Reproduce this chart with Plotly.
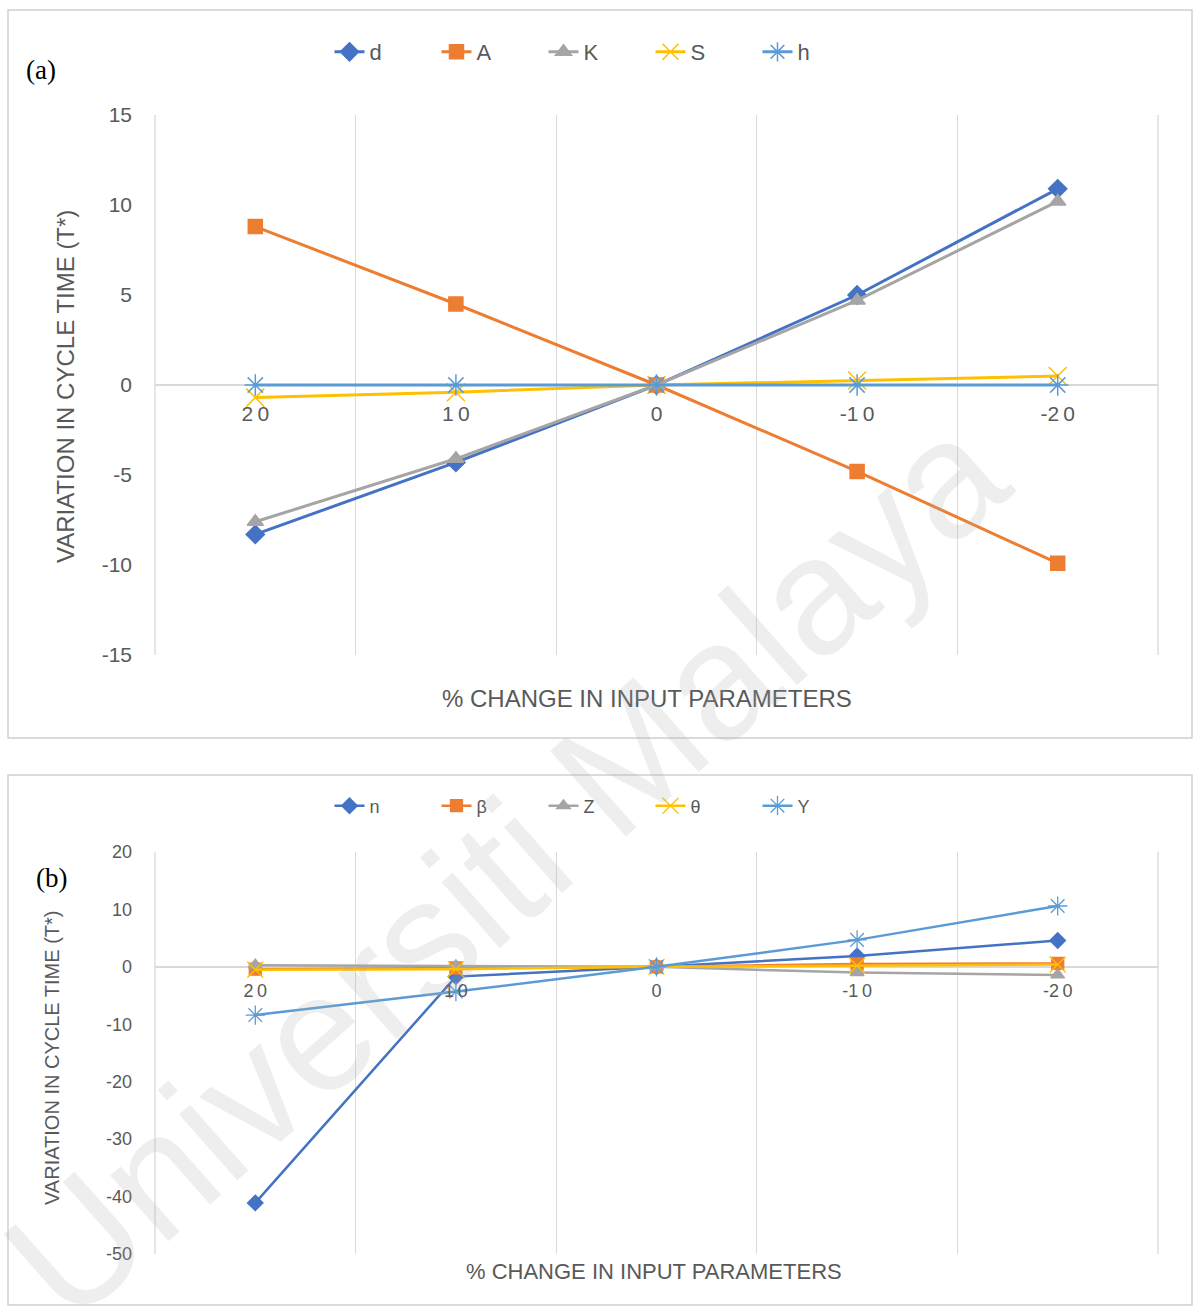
import plotly.graph_objects as go

# Category axis: percentage change applied to each input parameter
categories = ["20", "10", "0", "-10", "-20"]
category_labels = ["2\u20090", "1\u20090", "0", "-1\u20090", "-2\u20090"]

# Value-axis tick labels (plain hyphen minus)
ticks_a = [15, 10, 5, 0, -5, -10, -15]
ticks_b = [20, 10, 0, -10, -20, -30, -40, -50]

# (a) variation in cycle time T* for d, A, K, S, h
d_vals = [-8.3, -4.3, 0.0, 5.0, 10.9]
A_vals = [8.8, 4.5, 0.0, -4.8, -9.9]
K_vals = [-7.6, -4.1, 0.0, 4.7, 10.2]
S_vals = [-0.7, -0.4, 0.0, 0.25, 0.5]
h_vals = [0.0, 0.0, 0.0, 0.0, 0.0]

# (b) variation in cycle time T* for n, beta, Z, theta, gamma
n_vals = [-41.1, -1.7, 0.0, 1.9, 4.6]
beta_vals = [-0.4, -0.2, 0.0, 0.5, 0.6]
Z_vals = [0.3, 0.2, 0.0, -1.0, -1.4]
theta_vals = [-0.5, -0.4, 0.0, 0.2, 0.4]
Y_vals = [-8.4, -4.3, 0.0, 4.7, 10.6]

names_a = ["d", "A", "K", "S", "h"]
names_b = ["n", "β", "Z", "θ", "Y"]
series_a = [d_vals, A_vals, K_vals, S_vals, h_vals]
series_b = [n_vals, beta_vals, Z_vals, theta_vals, Y_vals]

colors = ["#4472C4", "#ED7D31", "#A5A5A5", "#FFC000", "#5B9BD5"]
symbols = ["diamond", "square", "triangle-up", "x-thin-open", "asterisk-open"]

W, H = 1194, 1309
def px_x(p):
    return p / W
def px_y(p):
    return 1 - p / H

fig = go.Figure()

for name, vals, c, s in zip(names_a, series_a, colors, symbols):
    open_sym = s.endswith("open")
    fig.add_trace(go.Scatter(
        x=categories, y=vals, name=name, mode="lines+markers",
        xaxis="x", yaxis="y", legend="legend",
        line=dict(color=c, width=3),
        marker=dict(symbol=s, size=14 if not open_sym else 18, color=c,
                    line=dict(color=c, width=1.5)),
    ))

for name, vals, c, s in zip(names_b, series_b, colors, symbols):
    open_sym = s.endswith("open")
    fig.add_trace(go.Scatter(
        x=categories, y=vals, name=name, mode="lines+markers",
        xaxis="x2", yaxis="y2", legend="legend2",
        line=dict(color=c, width=2.5),
        marker=dict(symbol=s, size=12 if not open_sym else 16, color=c,
                    line=dict(color=c, width=1.3)),
    ))

grid = "#d9d9d9"
tick_col = "#595959"
dom_x = [px_x(155), px_x(1158)]
dom_ya = [px_y(655), px_y(115)]
dom_yb = [px_y(1254), px_y(852)]

def xaxis_cfg(zero_px, size, standoff):
    return dict(
        type="category", categoryorder="array", categoryarray=categories,
        tickvals=categories, ticktext=category_labels,
        range=[-0.5, 4.5], autorange=False,
        domain=dom_x, anchor="free", position=px_y(zero_px),
        tickson="boundaries", showgrid=True, gridcolor=grid, gridwidth=1.3,
        ticks="", showline=False, zeroline=False,
        tickfont=dict(family="Liberation Sans, Arial", size=size, color=tick_col),
        ticklabelstandoff=standoff, fixedrange=True,
    )

def yaxis_cfg(dom, anchor, rng, tv, size):
    return dict(domain=dom, anchor=anchor, range=rng,
                tickvals=tv, ticktext=[str(v) for v in tv],
                showgrid=False, zeroline=True, zerolinecolor=grid, zerolinewidth=1.5,
                showline=False, ticks="",
                tickfont=dict(family="Liberation Sans, Arial", size=size, color=tick_col),
                ticklabelstandoff=22)

fig.update_layout(
    width=W, height=H,
    margin=dict(l=0, r=0, t=0, b=0, autoexpand=False),
    paper_bgcolor="white", plot_bgcolor="rgba(0,0,0,0)",
    showlegend=True,
    xaxis=xaxis_cfg(386, 21, 13),
    yaxis=yaxis_cfg(dom_ya, "x", [-15, 15], ticks_a, 21),
    xaxis2=xaxis_cfg(967, 18, 11),
    yaxis2=yaxis_cfg(dom_yb, "x2", [-50, 20], ticks_b, 18),
    legend=dict(orientation="h", x=0.5, xanchor="center", y=px_y(52), yanchor="middle",
                font=dict(family="Liberation Sans, Arial", size=22, color=tick_col),
                bgcolor="rgba(0,0,0,0)", entrywidth=62, entrywidthmode="pixels"),
    legend2=dict(orientation="h", x=0.5, xanchor="center", y=px_y(806), yanchor="middle",
                 font=dict(family="Liberation Sans, Arial", size=18, color=tick_col),
                 bgcolor="rgba(0,0,0,0)", entrywidth=62, entrywidthmode="pixels"),
)

# Panel frames
fig.add_shape(type="rect", xref="paper", yref="paper",
              x0=px_x(8), x1=px_x(1192), y0=px_y(738), y1=px_y(10),
              line=dict(color="#d0d0d0", width=1.5), layer="below")
fig.add_shape(type="rect", xref="paper", yref="paper",
              x0=px_x(8), x1=px_x(1192), y0=px_y(1305), y1=px_y(775),
              line=dict(color="#d0d0d0", width=1.5), layer="below")

# Outer category boundaries (left and right edges of each plot area)
for ya in (dom_ya, dom_yb):
    for xe in dom_x:
        fig.add_shape(type="line", xref="paper", yref="paper",
                      x0=xe, x1=xe, y0=ya[0], y1=ya[1],
                      line=dict(color=grid, width=1.3), layer="below")

ann = [
    dict(text="(a)", x=px_x(24), y=px_y(70), xanchor="left", yanchor="middle",
         font=dict(family="Liberation Serif, Times New Roman", size=27, color="black")),
    dict(text="(b)", x=px_x(34), y=px_y(878), xanchor="left", yanchor="middle",
         font=dict(family="Liberation Serif, Times New Roman", size=27, color="black")),
    dict(text="VARIATION IN CYCLE TIME (T*)", x=px_x(65), y=px_y(387),
         xanchor="center", yanchor="middle", textangle=-90,
         font=dict(family="Liberation Sans, Arial", size=24, color=tick_col)),
    dict(text="VARIATION IN CYCLE TIME (T*)", x=px_x(52), y=px_y(1058),
         xanchor="center", yanchor="middle", textangle=-90,
         font=dict(family="Liberation Sans, Arial", size=20, color=tick_col)),
    dict(text="% CHANGE IN INPUT PARAMETERS", x=px_x(647), y=px_y(698),
         xanchor="center", yanchor="middle",
         font=dict(family="Liberation Sans, Arial", size=24, color=tick_col)),
    dict(text="% CHANGE IN INPUT PARAMETERS", x=px_x(654), y=px_y(1271),
         xanchor="center", yanchor="middle",
         font=dict(family="Liberation Sans, Arial", size=22, color=tick_col)),
    dict(text="Universiti Malaya", x=px_x(505), y=px_y(866),
         xanchor="center", yanchor="middle", textangle=-41.5,
         font=dict(family="Liberation Sans, Arial", size=166, color="rgba(170,170,170,0.2)")),
]
for a in ann:
    a.update(xref="paper", yref="paper", showarrow=False)
    fig.add_annotation(**a)

fig.write_html("out.html")
